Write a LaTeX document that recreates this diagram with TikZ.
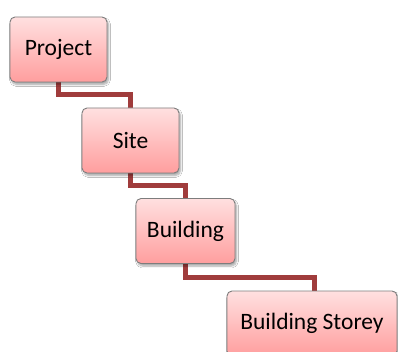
\documentclass[tikz,border=0pt]{standalone}
\usepackage{fontspec}
\setmainfont{Carlito}
\usetikzlibrary{shadows.blur,calc}
\pgfdeclarelayer{background}
\pgfsetlayers{background,main}
\definecolor{boxtop}{RGB}{255,224,224}
\definecolor{boxbottom}{RGB}{255,158,158}
\definecolor{boxline}{RGB}{125,125,125}
\definecolor{linkred}{RGB}{160,60,60}
\tikzset{
  levelbox/.style={draw=boxline, line width=0.9pt, rounded corners=5pt,
    top color=boxtop, bottom color=boxbottom,
    blur shadow={shadow xshift=1.5pt, shadow yshift=-2.5pt, shadow blur steps=6, shadow opacity=35},
    minimum height=65pt, inner sep=0pt, font=\fontsize{23.5}{26}\selectfont, text=black},
  link/.style={draw=linkred, line width=5pt}
}
\begin{document}
\begin{tikzpicture}[x=1pt,y=-1pt]
  \clip (0,0) rectangle (398,352);
  \node[levelbox, minimum width=97pt] (project) at (58.5,49.5) {Project};
  \node[levelbox, minimum width=97pt] (site) at (130.5,140.5) {Site};
  \node[levelbox, minimum width=99pt] (building) at (185.5,231) {Building};
  \node[levelbox, minimum width=170pt] (storey) at (312,323.5) {Building Storey};
  \begin{pgfonlayer}{background}
    \fill[white] (0,0) rectangle (398,352);
    \draw[link] (project.south) |- ($(project.south)!0.5!(site.north)$) -| (site.north);
    \draw[link] (site.south) |- ($(site.south)!0.5!(building.north)$) -| (building.north);
    \draw[link] (building.south) |- ($(building.south)!0.5!(storey.north)$) -| ($(storey.north west)+(88,0)$);
  \end{pgfonlayer}
\end{tikzpicture}
\end{document}
